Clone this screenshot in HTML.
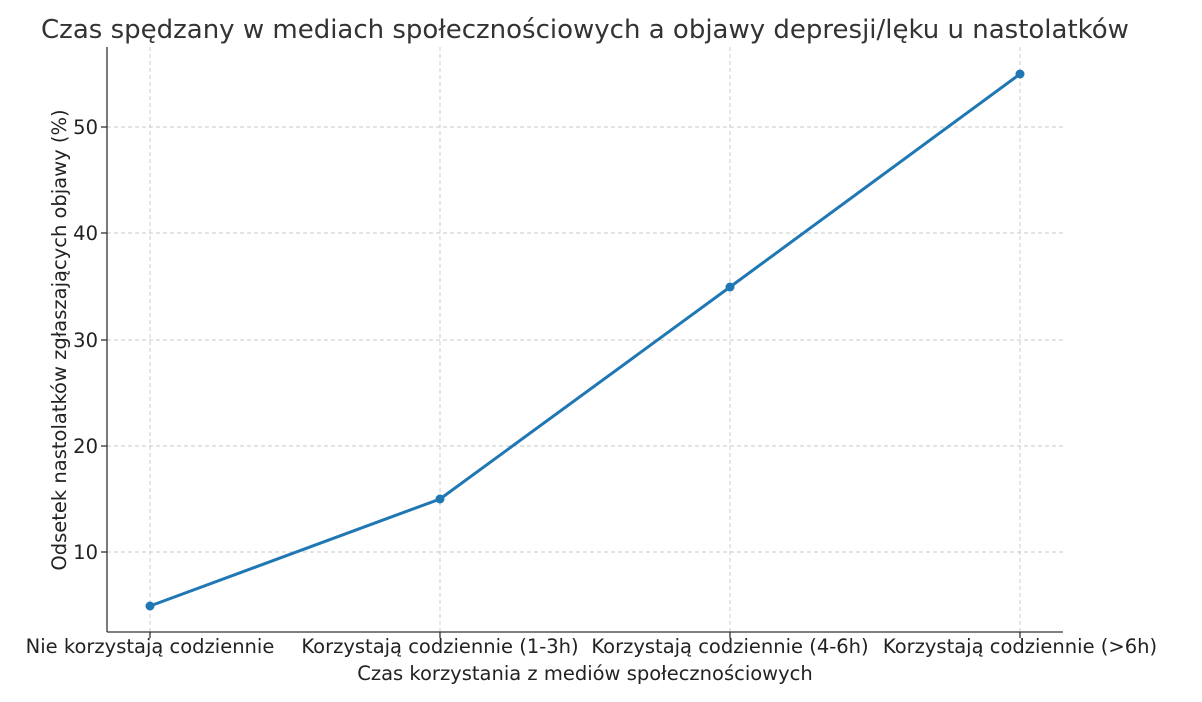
<!DOCTYPE html>
<html><head><meta charset="utf-8"><style>
html,body{margin:0;padding:0;background:#fff;}
svg{display:block;font-family:"DejaVu Sans","Liberation Sans",sans-serif;}
</style></head><body>
<svg width="1202" height="702" xmlns="http://www.w3.org/2000/svg">
<rect width="1202" height="702" fill="#fff"/>
<text x="585" y="38" font-size="26" fill="#333" text-anchor="middle">Czas spędzany w mediach społecznościowych a objawy depresji/lęku u nastolatków</text>
<g stroke="#c8c8c8" stroke-width="0.9" stroke-dasharray="4,3">
<line x1="150" y1="47" x2="150" y2="632"/>
<line x1="440" y1="47" x2="440" y2="632"/>
<line x1="730" y1="47" x2="730" y2="632"/>
<line x1="1020" y1="47" x2="1020" y2="632"/>
<line x1="107" y1="127" x2="1063" y2="127"/>
<line x1="107" y1="233" x2="1063" y2="233"/>
<line x1="107" y1="340" x2="1063" y2="340"/>
<line x1="107" y1="446" x2="1063" y2="446"/>
<line x1="107" y1="552" x2="1063" y2="552"/>
</g>
<g stroke="#333" stroke-width="1.3">
<line x1="107" y1="47" x2="107" y2="632"/>
<line x1="107" y1="632" x2="1063" y2="632"/>
<line x1="101" y1="127" x2="107" y2="127"/>
<line x1="101" y1="233" x2="107" y2="233"/>
<line x1="101" y1="340" x2="107" y2="340"/>
<line x1="101" y1="446" x2="107" y2="446"/>
<line x1="101" y1="552" x2="107" y2="552"/>
<line x1="150" y1="632" x2="150" y2="638"/>
<line x1="440" y1="632" x2="440" y2="638"/>
<line x1="730" y1="632" x2="730" y2="638"/>
<line x1="1020" y1="632" x2="1020" y2="638"/>
</g>
<g font-size="19.5" fill="#222" text-anchor="end">
<text x="98" y="134">50</text>
<text x="98" y="240">40</text>
<text x="98" y="347">30</text>
<text x="98" y="453">20</text>
<text x="98" y="559">10</text>
</g>
<g font-size="19.5" fill="#222" text-anchor="middle">
<text x="150" y="653">Nie korzystają codziennie</text>
<text x="440" y="653">Korzystają codziennie (1-3h)</text>
<text x="730" y="653">Korzystają codziennie (4-6h)</text>
<text x="1020" y="653">Korzystają codziennie (&gt;6h)</text>
<text x="585" y="680">Czas korzystania z mediów społecznościowych</text>
<text transform="translate(66,340) rotate(-90)">Odsetek nastolatków zgłaszających objawy (%)</text>
</g>
<polyline points="150,606 440,499 730,287 1020,74" fill="none" stroke="#1f77b4" stroke-width="3"/>
<g fill="#1f77b4">
<circle cx="150" cy="606" r="4.5"/>
<circle cx="440" cy="499" r="4.5"/>
<circle cx="730" cy="287" r="4.5"/>
<circle cx="1020" cy="74" r="4.5"/>
</g>
</svg>
</body></html>
